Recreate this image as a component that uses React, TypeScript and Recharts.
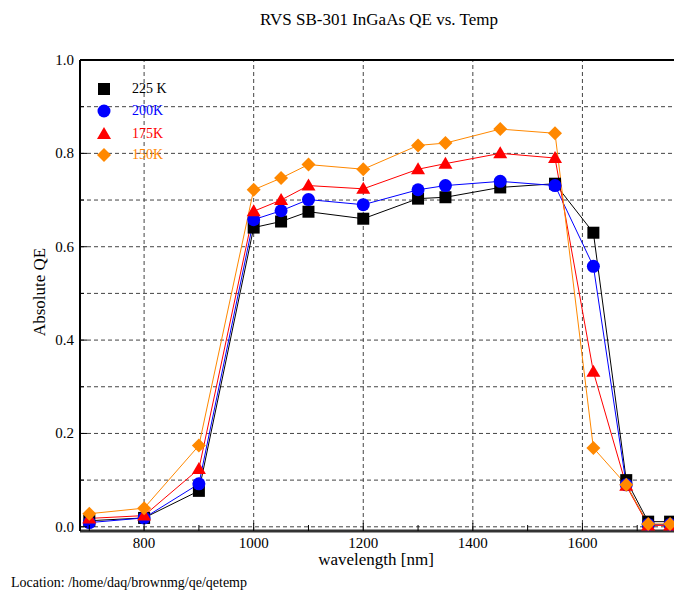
import { LineChart, Line, XAxis, YAxis, CartesianGrid, ReferenceLine } from 'recharts';

// wavelength [nm] and absolute QE per temperature
const WAVELENGTHS = [700, 800, 900, 1000, 1050, 1100, 1200, 1300, 1350, 1450, 1550, 1620, 1680, 1720, 1760];
const QE_225K = [0.013, 0.019, 0.077, 0.641, 0.654, 0.675, 0.66, 0.703, 0.706, 0.727, 0.735, 0.63, 0.1, 0.011, 0.011];
const QE_200K = [0.009, 0.019, 0.092, 0.658, 0.677, 0.701, 0.69, 0.722, 0.731, 0.74, 0.731, 0.558, 0.09, 0.005, 0.005];
const QE_175K = [0.018, 0.024, 0.124, 0.676, 0.7, 0.731, 0.724, 0.766, 0.778, 0.8, 0.79, 0.332, 0.088, 0.003, 0.003];
const QE_150K = [0.028, 0.04, 0.174, 0.722, 0.747, 0.776, 0.766, 0.817, 0.822, 0.852, 0.843, 0.169, 0.09, 0.006, 0.006];

const X_TICKS = [700, 800, 900, 1000, 1100, 1200, 1300, 1400, 1500, 1600, 1700];
const X_LABELS = [800, 1000, 1200, 1400, 1600];
const Y_TICKS = [0, 0.1, 0.2, 0.3, 0.4, 0.5, 0.6, 0.7, 0.8, 0.9, 1.0];
const Y_LABELS = [0, 0.2, 0.4, 0.6, 0.8, 1.0];

type Shape = 'square' | 'circle' | 'triangle' | 'diamond';

const SERIES: { key: string; name: string; color: string; shape: Shape; values: number[] }[] = [
  { key: 'q225', name: '225 K', color: '#000000', shape: 'square', values: QE_225K },
  { key: 'q200', name: '200K', color: '#0000ff', shape: 'circle', values: QE_200K },
  { key: 'q175', name: '175K', color: '#ff0000', shape: 'triangle', values: QE_175K },
  { key: 'q150', name: '150K', color: '#ff8800', shape: 'diamond', values: QE_150K },
];

const data = WAVELENGTHS.map((wl, i) => {
  const row: Record<string, number> = { wl };
  SERIES.forEach(s => { row[s.key] = s.values[i]; });
  return row;
});

const FONT = '"Liberation Serif", "DejaVu Serif", serif';
const GRID = '#444';
const TICK_TEXT = { fontFamily: FONT, fontSize: 15, fill: '#000' };

function Marker({ shape, color, cx, cy }: { shape: Shape; color: string; cx: number; cy: number }) {
  if (shape === 'square') return <rect x={cx - 6} y={cy - 6} width={12} height={12} fill={color} />;
  if (shape === 'circle') return <circle cx={cx} cy={cy} r={6.5} fill={color} />;
  if (shape === 'triangle')
    return <polygon points={`${cx},${cy - 7} ${cx - 7},${cy + 5} ${cx + 7},${cy + 5}`} fill={color} />;
  return <polygon points={`${cx},${cy - 7} ${cx + 7},${cy} ${cx},${cy + 7} ${cx - 7},${cy}`} fill={color} />;
}

function BottomTick({ x, y, payload }: any) {
  const v = payload.value;
  const major = X_LABELS.includes(v);
  return (
    <g>
      <line x1={x} x2={x} y1={y} y2={y - (major ? 8 : 6)} stroke="#000" />
      {major && (
        <text x={x} y={y + 17} textAnchor="middle" style={TICK_TEXT}>{v}</text>
      )}
    </g>
  );
}

function TopTick({ x, y, payload }: any) {
  const major = X_LABELS.includes(payload.value);
  return <line x1={x} x2={x} y1={y} y2={y + (major ? 8 : 6)} stroke="#000" />;
}

function LeftTick({ x, y, payload }: any) {
  const v = payload.value;
  const major = Y_LABELS.some(l => Math.abs(l - v) < 1e-6);
  return (
    <g>
      <line x1={x} x2={x + (major ? 7 : 4)} y1={y} y2={y} stroke="#000" />
      {major && (
        <text x={x - 6} y={y + 5} textAnchor="end" style={TICK_TEXT}>{v.toFixed(1)}</text>
      )}
    </g>
  );
}

export default function App() {
  return (
    <div style={{ position: 'absolute', left: 0, top: 0, width: 674, height: 592, overflow: 'hidden', background: '#fff', fontFamily: FONT }}>
      <LineChart width={700} height={592} data={data} margin={{ top: 50, right: 8, bottom: 11, left: 10 }}>
        <CartesianGrid vertical={false} stroke={GRID} strokeDasharray="4 3" />
        {X_LABELS.map(v => (
          <ReferenceLine key={v} x={v} stroke={GRID} strokeDasharray="4 3" />
        ))}
        <XAxis
          dataKey="wl"
          type="number"
          domain={[683, 1800]}
          ticks={X_TICKS}
          interval={0}
          height={50}
          tickSize={0}
          tickMargin={0}
          tickLine={false}
          axisLine={{ stroke: '#333', strokeWidth: 3 }}
          tick={<BottomTick />}
        />
        <XAxis
          xAxisId="top"
          orientation="top"
          type="number"
          domain={[683, 1800]}
          ticks={X_TICKS}
          interval={0}
          height={10}
          tickSize={0}
          tickMargin={0}
          tickLine={false}
          axisLine={{ stroke: '#000', strokeWidth: 2 }}
          tick={<TopTick />}
        />
        <YAxis
          type="number"
          domain={[-0.009, 1]}
          ticks={Y_TICKS}
          interval={0}
          width={70}
          tickSize={0}
          tickMargin={0}
          tickLine={false}
          axisLine={{ stroke: '#000', strokeWidth: 2 }}
          tick={<LeftTick />}
        />
        {SERIES.map(s => (
          <Line
            key={s.key}
            dataKey={s.key}
            type="linear"
            stroke={s.color}
            strokeWidth={1}
            isAnimationActive={false}
            dot={(p: any) => <Marker key={`${s.key}-${p.index}`} shape={s.shape} color={s.color} cx={p.cx} cy={p.cy} />}
            activeDot={false}
          />
        ))}
      </LineChart>

      {/* title and axis captions */}
      <div style={{ position: 'absolute', left: 379, top: 10, transform: 'translateX(-50%)', whiteSpace: 'nowrap', fontSize: 17 }}>
        RVS SB-301 InGaAs QE vs. Temp
      </div>
      <div style={{ position: 'absolute', left: 376, top: 550, transform: 'translateX(-50%)', whiteSpace: 'nowrap', fontSize: 17 }}>
        wavelength [nm]
      </div>
      <div style={{ position: 'absolute', left: 40, top: 292, transform: 'translate(-50%, -50%) rotate(-90deg)', whiteSpace: 'nowrap', fontSize: 17 }}>
        Absolute QE
      </div>
      <div style={{ position: 'absolute', left: 11, top: 575, whiteSpace: 'nowrap', fontSize: 14 }}>
        Location: /home/daq/brownmg/qe/qetemp
      </div>

      {/* legend */}
      {SERIES.map((s, i) => {
        const cy = [89, 111, 134, 155][i];
        return (
          <div key={s.key}>
            <svg style={{ position: 'absolute', left: 94, top: cy - 10 }} width={20} height={20}>
              <Marker shape={s.shape} color={s.color} cx={10} cy={10} />
            </svg>
            <div style={{ position: 'absolute', left: 132, top: cy - 8, fontSize: 14, color: s.color, whiteSpace: 'nowrap' }}>
              {s.name}
            </div>
          </div>
        );
      })}
    </div>
  );
}
